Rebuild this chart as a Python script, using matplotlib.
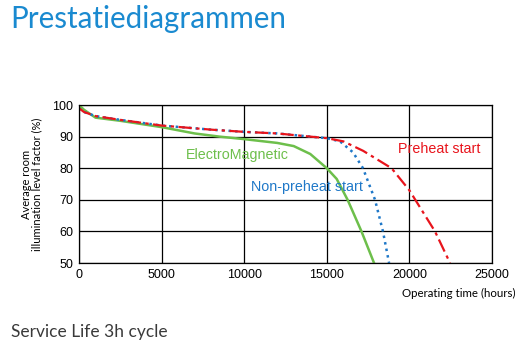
import matplotlib
matplotlib.use('Agg')
import matplotlib.pyplot as plt

# operating hours vs average room illumination level factor (%)
em_hours = [0, 300, 1000, 2500, 5000, 7000, 8500, 10000, 12000, 13000, 14000, 15000, 15600, 16260, 17100, 17860]
em_level = [100, 98.5, 96, 95, 93, 91, 90, 89.2, 88, 87, 84.5, 80, 76.6, 70, 60, 50]

np_hours = [0, 300, 1000, 2500, 5000, 8000, 10000, 12000, 14000, 15000, 15800, 16590, 17190, 17920, 18400, 18770]
np_level = [99, 97.8, 96.5, 95.3, 93.5, 92.2, 91.5, 91, 90, 89.5, 88.5, 85, 80, 70, 60, 50]

ph_hours = [0, 300, 1000, 2500, 5000, 8000, 10000, 12000, 14000, 15000, 16000, 17200, 18920, 20000, 21550, 22460]
ph_level = [99, 97.8, 96.5, 95.3, 93.5, 92.2, 91.5, 91, 90, 89.5, 88.5, 85.5, 80, 73, 60, 50]

x_ticks = [0, 5000, 10000, 15000, 20000, 25000]
y_ticks = [50, 60, 70, 80, 90, 100]

fig = plt.figure(figsize=(5.28, 3.59), dpi=100)
ax = fig.add_axes([0.1496, 0.2674, 0.7822, 0.4401])

ax.plot(em_hours, em_level, '-', color='#6dbf4b', lw=1.8)
ax.plot(np_hours, np_level, ':', color='#1f78c8', lw=1.8)
ax.plot(ph_hours, ph_level, color='#e8141c', lw=1.6, dashes=(6, 2, 1.5, 2))

ax.set_xlim(0, 25000)
ax.set_ylim(50, 100)
ax.set_xticks(x_ticks)
ax.set_yticks(y_ticks)
ax.grid(True, color='black', lw=0.9)
ax.set_axisbelow(True)
for s in ax.spines.values():
    s.set_linewidth(0.9)
ax.tick_params(length=0, labelsize=9, pad=4)
for lab in ax.get_xticklabels() + ax.get_yticklabels():
    lab.set_fontfamily('Liberation Sans')

ax.set_ylabel('Average room\nillumination level factor (%)', fontsize=8,
              fontfamily='Lato', linespacing=1.0, labelpad=7)

ax.text(6480, 84.2, 'ElectroMagnetic', color='#6dbf4b', fontsize=10.3,
        fontfamily='Liberation Sans', ha='left', va='center')
ax.text(10410, 74, 'Non-preheat start', color='#1f78c8', fontsize=10.3,
        fontfamily='Liberation Sans', ha='left', va='center')
ax.text(19310, 86.1, 'Preheat start', color='#e8141c', fontsize=10.3,
        fontfamily='Liberation Sans', ha='left', va='center')

fig.text(515 / 528, 1 - 293 / 359, 'Operating time (hours)', fontsize=8.3,
         fontfamily='Lato', ha='right', va='center')

fig.text(10 / 528, 1 - 19 / 359, 'Prestatiediagrammen', color='#1a8ad0',
         fontsize=21.3, fontfamily='Lato', ha='left', va='center')
fig.text(11 / 528, 1 - 332 / 359, 'Service Life 3h cycle', color='#3a3a3a',
         fontsize=12.5, fontfamily='Lato', ha='left', va='center')

fig.savefig('out.png', dpi=100)
